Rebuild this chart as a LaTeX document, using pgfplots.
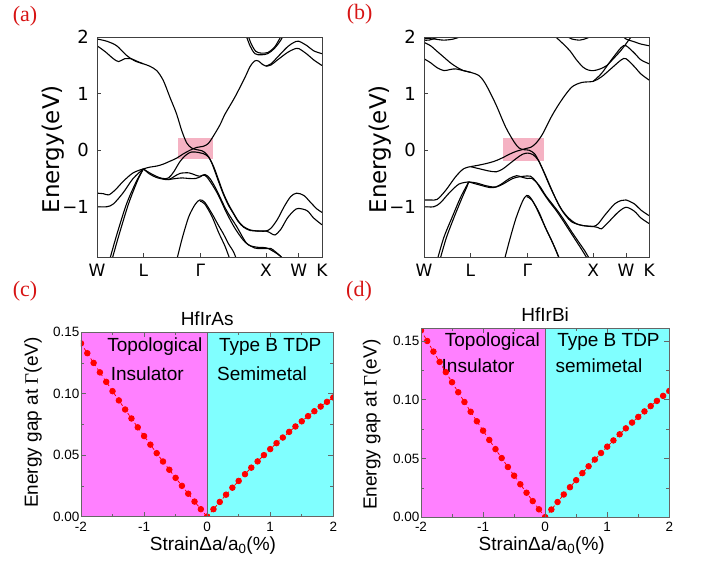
\documentclass[border=0pt]{standalone}
\usepackage{pgfplots}
\pgfplotsset{compat=1.18}
\usepackage{fontspec}
\setmainfont{DejaVu Sans}
\newfontfamily\arialf{Liberation Sans}
\newfontfamily\timesf{Liberation Serif}
\definecolor{labred}{RGB}{215,20,20}
\definecolor{pinkbox}{RGB}{245,178,195}
\definecolor{magfill}{RGB}{255,128,255}
\definecolor{cyanfill}{RGB}{128,255,255}
\tikzset{regtext/.style={font=\arialf\fontsize{19}{21}\selectfont, anchor=center, inner sep=0pt},
 plab/.style={anchor=base west, inner sep=0pt, text=labred, font=\timesf\fontsize{22}{24}\selectfont}}
\pgfplotsset{
 bandaxis/.style={scale only axis, height=219.7pt, xmin=0, xmax=3.427, ymin=-1.89, ymax=2,
  xtick={0,0.707,1.573,2.573,3.073,3.427}, xticklabels={W,L,Γ,X,W,K},
  ytick={-1,0,1,2}, yticklabels={−1,0,1,2},
  tick align=inside, tick pos=left, major tick length=4pt,
  axis line style={black!75, line width=0.8pt}, every tick/.style={black!75, line width=0.8pt},
  yticklabel style={font=\fontsize{18}{20}\selectfont, inner sep=0pt, anchor=east, xshift=-8pt},
  xticklabel style={font=\fontsize{17}{19}\selectfont, inner sep=0pt, anchor=north, yshift=-7pt},
  ylabel={Energy(eV)},
  every axis y label/.style={at={(axis description cs:-0.193,0.49)}, rotate=90, anchor=center, font=\fontsize{23}{25}\selectfont},
  axis on top},
 band/.style={black, line width=1.1pt, smooth, no markers},
 gapaxis/.style={scale only axis, xmin=-2, xmax=2, ymin=0,
  xtick={-2,-1,0,1,2}, xticklabels={-2,-1,0,1,2},
  ytick={0,0.05,0.1,0.15}, yticklabels={0.00,0.05,0.10,0.15},
  minor x tick num=1, minor y tick num=1,
  tick align=inside, tick pos=both, major tick length=5pt, minor tick length=3pt,
  axis line style={black!60, line width=0.8pt}, every tick/.style={black!60, line width=0.7pt},
  ticklabel style={font=\arialf\fontsize{13.5}{15}\selectfont, inner sep=1.5pt},
  xticklabel style={yshift=-3.5pt},
  xlabel={StrainΔa/a\textsubscript{0}(\%)},
  ylabel={Energy gap at {\timesf Γ}(eV)},
  axis on top, clip marker paths=true},
 gapdata/.style={red, dashed, line width=0.8pt, mark=*, mark size=2.8pt, mark options={solid, fill=red, draw=red}},
}
\begin{document}
\begin{tikzpicture}
\path[use as bounding box] (0pt,0pt) rectangle (702pt,562pt);
\node[plab] at (12.7pt,540pt) {(a)};
\node[plab] at (346.7pt,542pt) {(b)};
\node[plab] at (12.7pt,265pt) {(c)};
\node[plab] at (346pt,265pt) {(d)};

% ---------------- (a)
\begin{axis}[bandaxis, width=225pt, at={(97pt,305pt)}, anchor=south west]
\addplot[draw=none, fill=pinkbox] coordinates {(1.23,-0.16) (1.76,-0.16) (1.76,0.22) (1.23,0.22)} -- cycle;
\addplot[band] coordinates {(0,1.97) (0.15,1.93) (0.3,1.85) (0.45,1.68) (0.58,1.58) (0.707,1.53)};
\addplot[band] coordinates {(0,1.85) (0.12,1.75) (0.25,1.62) (0.33,1.57) (0.42,1.62) (0.52,1.62) (0.62,1.57) (0.707,1.53)};
\addplot[band] coordinates {(0.707,1.53) (0.8,1.49) (0.91,1.41) (1.01,1.235) (1.11,0.94) (1.21,0.65) (1.29,0.35) (1.366,0.13) (1.44,0.04) (1.52,0.01) (1.6,-0.01) (1.67,-0.07) (1.746,-0.22) (1.85,-0.55) (1.925,-0.78) (2.0,-0.97) (2.077,-1.12) (2.15,-1.26) (2.23,-1.36) (2.33,-1.42) (2.45,-1.43) (2.573,-1.43) (2.65,-1.47) (2.711,-1.5) (2.8,-1.4) (2.9,-1.2) (3.0,-1.07) (3.066,-1.03) (3.2,-1.07) (3.3,-1.2) (3.427,-1.32)};
\addplot[band] coordinates {(0.707,-0.33) (0.8,-0.4) (0.9,-0.46) (1.0,-0.5) (1.09,-0.49) (1.17,-0.38) (1.264,-0.2) (1.36,-0.08) (1.442,-0.03) (1.55,-0.04) (1.62,-0.06) (1.7,-0.12) (1.78,-0.3) (1.85,-0.52) (1.925,-0.76) (2.0,-0.95) (2.077,-1.11) (2.15,-1.25) (2.23,-1.35) (2.33,-1.41) (2.45,-1.43) (2.573,-1.43) (2.65,-1.38) (2.75,-1.22) (2.85,-1.0) (2.95,-0.82) (3.041,-0.76) (3.15,-0.8) (3.25,-0.92) (3.35,-1.04) (3.427,-1.1)};
\addplot[band] coordinates {(0.707,-0.33) (0.8,-0.3) (0.91,-0.28) (1.0,-0.25) (1.1,-0.2) (1.213,-0.14) (1.32,-0.06) (1.416,0.0) (1.518,0.05) (1.62,0.07) (1.696,0.12) (1.772,0.25) (1.873,0.45) (1.95,0.64) (2.1,0.94) (2.254,1.29) (2.33,1.48) (2.4,1.58) (2.46,1.58) (2.52,1.52) (2.573,1.49) (2.65,1.51) (2.75,1.6) (2.9,1.73) (3.0,1.79) (3.073,1.8) (3.2,1.7) (3.3,1.6) (3.427,1.5)};
\addplot[band] coordinates {(2.573,1.49) (2.65,1.53) (2.75,1.65) (2.9,1.83) (3.0,1.91) (3.073,1.93) (3.2,1.85) (3.3,1.76) (3.427,1.71)};
\addplot[band] coordinates {(2.25,2.1) (2.33,1.85) (2.406,1.71) (2.5,1.69) (2.6,1.71) (2.7,1.8) (2.8,1.95) (2.864,2.1)};
\addplot[band] coordinates {(2.28,2.1) (2.35,1.88) (2.42,1.75) (2.5,1.72) (2.6,1.73) (2.7,1.82) (2.78,1.97) (2.84,2.1)};
\addplot[band] coordinates {(0,-0.76) (0.1,-0.77) (0.18,-0.79) (0.28,-0.7) (0.4,-0.55) (0.55,-0.4) (0.707,-0.33)};
\addplot[band] coordinates {(0,-1.0) (0.15,-1.0) (0.25,-0.95) (0.4,-0.75) (0.55,-0.5) (0.707,-0.33)};
\addplot[band] coordinates {(0.19,-1.95) (0.3,-1.5) (0.45,-0.95) (0.6,-0.55) (0.707,-0.33)};
\addplot[band] coordinates {(0.225,-1.95) (0.335,-1.5) (0.48,-0.95) (0.62,-0.53) (0.707,-0.33)};
\addplot[band] coordinates {(0.707,-0.33) (0.8,-0.42) (0.9,-0.48) (1.0,-0.51) (1.09,-0.52) (1.17,-0.47) (1.264,-0.41) (1.4,-0.4) (1.5,-0.44) (1.569,-0.46) (1.645,-0.43) (1.72,-0.5) (1.82,-0.7) (1.97,-1.06) (2.127,-1.35) (2.28,-1.65) (2.4,-1.71) (2.483,-1.72) (2.584,-1.73) (2.7,-1.8) (2.787,-1.87) (2.85,-1.95)};
\addplot[band] coordinates {(1.09,-0.52) (1.2,-0.5) (1.3,-0.49) (1.4,-0.5) (1.5,-0.5) (1.573,-0.47) (1.62,-0.44) (1.67,-0.47) (1.75,-0.6) (1.85,-0.8) (1.97,-1.1) (2.1,-1.38) (2.25,-1.62) (2.4,-1.73) (2.5,-1.74) (2.584,-1.74) (2.65,-1.74) (2.72,-1.8) (2.8,-1.88) (2.85,-1.95)};
\addplot[band] coordinates {(1.213,-1.95) (1.3,-1.55) (1.4,-1.17) (1.5,-0.95) (1.569,-0.88) (1.64,-0.92) (1.75,-1.12) (1.85,-1.33) (1.925,-1.48) (2.0,-1.65) (2.08,-1.8) (2.13,-1.95)};
\addplot[band] coordinates {(1.569,-0.9) (1.64,-0.95) (1.75,-1.17) (1.85,-1.45) (1.95,-1.7) (2.03,-1.95)};
\end{axis}

% ---------------- (b)
\begin{axis}[bandaxis, width=225.3pt, at={(424pt,305pt)}, anchor=south west]
\addplot[draw=none, fill=pinkbox] coordinates {(1.206,-0.19) (1.825,-0.19) (1.825,0.22) (1.206,0.22)} -- cycle;
\addplot[band] coordinates {(0,1.98) (0.15,1.97) (0.3,1.95) (0.45,1.97) (0.6,2.03)};
\addplot[band] coordinates {(0,1.95) (0.08,1.95) (0.18,1.99) (0.25,2.03)};
\addplot[band] coordinates {(0,1.91) (0.1,1.85) (0.2,1.75) (0.3,1.65) (0.4,1.55) (0.5,1.47) (0.6,1.41) (0.707,1.38) (0.837,1.32) (0.938,1.17) (1.09,0.82) (1.242,0.41) (1.369,0.15) (1.445,0.04) (1.52,0.01) (1.6,0.0) (1.68,-0.06) (1.75,-0.2) (1.85,-0.45) (1.95,-0.72) (2.05,-0.97) (2.15,-1.15) (2.25,-1.27) (2.4,-1.33) (2.573,-1.35) (2.65,-1.37) (2.7,-1.39) (2.8,-1.28) (2.95,-1.1) (3.073,-1.01) (3.2,-1.08) (3.3,-1.2) (3.427,-1.3)};
\addplot[band] coordinates {(0,1.62) (0.1,1.55) (0.2,1.46) (0.304,1.41) (0.4,1.43) (0.48,1.44) (0.6,1.41) (0.707,1.38)};
\addplot[band] coordinates {(0.707,-0.29) (0.85,-0.26) (1.0,-0.22) (1.105,-0.18) (1.2,-0.13) (1.3,-0.07) (1.4,-0.02) (1.46,0.0) (1.55,0.03) (1.62,0.05) (1.7,0.12) (1.8,0.28) (1.95,0.62) (2.1,0.9) (2.25,1.12) (2.4,1.2) (2.573,1.22) (2.7,1.3) (2.85,1.45) (3.0,1.6) (3.073,1.62) (3.2,1.48) (3.3,1.35) (3.427,1.24)};
\addplot[band] coordinates {(2.573,1.22) (2.7,1.36) (2.85,1.6) (3.0,1.82) (3.073,1.85) (3.2,1.72) (3.3,1.6) (3.427,1.53)};
\addplot[band] coordinates {(1.95,2.05) (2.018,1.99) (2.12,1.88) (2.22,1.76) (2.32,1.6) (2.42,1.47) (2.5,1.42) (2.58,1.41) (2.68,1.44) (2.78,1.5) (2.88,1.62) (2.99,1.76) (3.07,1.88) (3.14,1.99) (3.2,2.05)};
\addplot[band] coordinates {(3.0,2.05) (3.073,1.97) (3.2,1.92) (3.3,1.88) (3.427,1.85)};
\addplot[band] coordinates {(2.17,2.02) (2.25,1.97) (2.37,1.95) (2.47,1.98) (2.55,2.02)};
\addplot[band] coordinates {(0.707,-0.29) (0.85,-0.33) (1.0,-0.37) (1.105,-0.38) (1.2,-0.33) (1.3,-0.24) (1.41,-0.14) (1.5,-0.07) (1.58,-0.05) (1.66,-0.08) (1.74,-0.18) (1.82,-0.38) (1.9,-0.6) (2.0,-0.85) (2.1,-1.06) (2.2,-1.2) (2.3,-1.29) (2.4,-1.33) (2.573,-1.35) (2.65,-1.3) (2.75,-1.15) (2.9,-0.95) (3.0,-0.89) (3.073,-0.88) (3.2,-0.95) (3.3,-1.06) (3.427,-1.16)};
\addplot[band] coordinates {(0.68,-0.56) (0.8,-0.58) (0.95,-0.63) (1.09,-0.65) (1.2,-0.58) (1.3,-0.5) (1.41,-0.45) (1.5,-0.48) (1.573,-0.5) (1.643,-0.5) (1.75,-0.62) (1.85,-0.8) (1.95,-0.95) (2.05,-1.1) (2.15,-1.27) (2.25,-1.45) (2.35,-1.62) (2.45,-1.79) (2.53,-1.95)};
\addplot[band] coordinates {(0.68,-0.56) (0.8,-0.6) (1.0,-0.66) (1.1,-0.65) (1.2,-0.6) (1.35,-0.5) (1.45,-0.47) (1.52,-0.46) (1.62,-0.46) (1.7,-0.55) (1.8,-0.73) (1.9,-0.9) (2.0,-1.05) (2.1,-1.22) (2.2,-1.4) (2.3,-1.58) (2.4,-1.76) (2.5,-1.95)};
\addplot[band] coordinates {(1.221,-1.95) (1.3,-1.6) (1.4,-1.2) (1.5,-0.9) (1.562,-0.8) (1.62,-0.84) (1.7,-1.0) (1.8,-1.25) (1.9,-1.5) (2.0,-1.75) (2.07,-1.95)};
\addplot[band] coordinates {(1.562,-0.82) (1.64,-0.88) (1.75,-1.1) (1.85,-1.38) (1.95,-1.62) (2.05,-1.9)};
\addplot[band] coordinates {(0,-0.88) (0.1,-0.88) (0.2,-0.87) (0.33,-0.71) (0.48,-0.47) (0.6,-0.33) (0.707,-0.29)};
\addplot[band] coordinates {(0,-1.0) (0.15,-1.0) (0.25,-0.93) (0.38,-0.76) (0.53,-0.6) (0.68,-0.56)};
\addplot[band] coordinates {(0.2,-1.95) (0.3,-1.55) (0.43,-1.18) (0.55,-0.85) (0.634,-0.66) (0.68,-0.56)};
\addplot[band] coordinates {(0.24,-1.95) (0.34,-1.55) (0.46,-1.18) (0.58,-0.84) (0.655,-0.64) (0.68,-0.56)};
\end{axis}

% ---------------- (c)
\begin{axis}[gapaxis, width=252.3pt, height=184.4pt, ymax=0.15, at={(81pt,45.3pt)}, anchor=south west,
  title={HfIrAs}, title style={font=\arialf\fontsize{19}{21}\selectfont, at={(0.5,1.042)}, anchor=center},
  every axis x label/.style={at={(axis description cs:0.523,-0.155)}, anchor=center, font=\arialf\fontsize{19}{21}\selectfont},
  every axis y label/.style={at={(axis description cs:-0.19,0.51)}, rotate=90, anchor=center, font=\arialf\fontsize{19}{21}\selectfont}]
\addplot[draw=none, fill=magfill] coordinates {(-2,0) (0,0) (0,0.15) (-2,0.15)} -- cycle;
\addplot[draw=none, fill=cyanfill] coordinates {(0,0) (2,0) (2,0.15) (0,0.15)} -- cycle;
\addplot[black!60, line width=0.7pt] coordinates {(0,0) (0,0.15)};
\node[regtext] at (axis cs:-0.83,0.138) {Topological};
\node[regtext] at (axis cs:-0.95,0.116) {Insulator};
\node[regtext] at (axis cs:1.0,0.138) {Type B TDP};
\node[regtext] at (axis cs:0.87,0.116) {Semimetal};
\addplot[gapdata] coordinates {(-2.0,0.1410) (-1.9,0.1330) (-1.8,0.1251) (-1.7,0.1174) (-1.6,0.1097) (-1.5,0.1021) (-1.4,0.0946) (-1.3,0.0872) (-1.2,0.0799) (-1.1,0.0727) (-1.0,0.0656) (-0.9,0.0586) (-0.8,0.0517) (-0.7,0.0449) (-0.6,0.0382) (-0.5,0.0316) (-0.4,0.0251) (-0.3,0.0187) (-0.2,0.0123) (-0.1,0.0061) (0.0,0.0)};
\addplot[gapdata] coordinates {(0.0,0.0) (0.1,0.0061) (0.2,0.0120) (0.3,0.0179) (0.4,0.0236) (0.5,0.0291) (0.6,0.0346) (0.7,0.0399) (0.8,0.0450) (0.9,0.0501) (1.0,0.0550) (1.1,0.0598) (1.2,0.0644) (1.3,0.0690) (1.4,0.0734) (1.5,0.0776) (1.6,0.0818) (1.7,0.0858) (1.8,0.0896) (1.9,0.0934) (2.0,0.0970)};
\end{axis}

% ---------------- (d)
\begin{axis}[gapaxis, width=248.3pt, height=189pt, ymax=0.1608, at={(421pt,44.7pt)}, anchor=south west,
  title={HfIrBi}, title style={font=\arialf\fontsize{19}{21}\selectfont, at={(0.5,1.042)}, anchor=center},
  every axis x label/.style={at={(axis description cs:0.486,-0.149)}, anchor=center, font=\arialf\fontsize{19}{21}\selectfont},
  every axis y label/.style={at={(axis description cs:-0.199,0.49)}, rotate=90, anchor=center, font=\arialf\fontsize{19}{21}\selectfont}]
\addplot[draw=none, fill=magfill] coordinates {(-2,0) (0,0) (0,0.1608) (-2,0.1608)} -- cycle;
\addplot[draw=none, fill=cyanfill] coordinates {(0,0) (2,0) (2,0.1608) (0,0.1608)} -- cycle;
\addplot[black!60, line width=0.7pt] coordinates {(0,0) (0,0.1608)};
\node[regtext] at (axis cs:-0.85,0.1494) {Topological};
\node[regtext] at (axis cs:-1.08,0.1287) {Insulator};
\node[regtext] at (axis cs:1.02,0.1494) {Type B TDP};
\node[regtext] at (axis cs:0.867,0.1287) {semimetal};
\addplot[gapdata] coordinates {(-2.0,0.1590) (-1.9,0.1500) (-1.8,0.1410) (-1.7,0.1322) (-1.6,0.1235) (-1.5,0.1149) (-1.4,0.1064) (-1.3,0.0981) (-1.2,0.0898) (-1.1,0.0817) (-1.0,0.0737) (-0.9,0.0658) (-0.8,0.0580) (-0.7,0.0504) (-0.6,0.0428) (-0.5,0.0354) (-0.4,0.0281) (-0.3,0.0209) (-0.2,0.0138) (-0.1,0.0068) (0.0,0.0)};
\addplot[gapdata] coordinates {(0.0,0.0) (0.1,0.0066) (0.2,0.0130) (0.3,0.0194) (0.4,0.0256) (0.5,0.0316) (0.6,0.0376) (0.7,0.0434) (0.8,0.0491) (0.9,0.0547) (1.0,0.0601) (1.1,0.0654) (1.2,0.0706) (1.3,0.0757) (1.4,0.0806) (1.5,0.0854) (1.6,0.0901) (1.7,0.0946) (1.8,0.0990) (1.9,0.1033) (2.0,0.1075)};
\end{axis}
\end{tikzpicture}
\end{document}
